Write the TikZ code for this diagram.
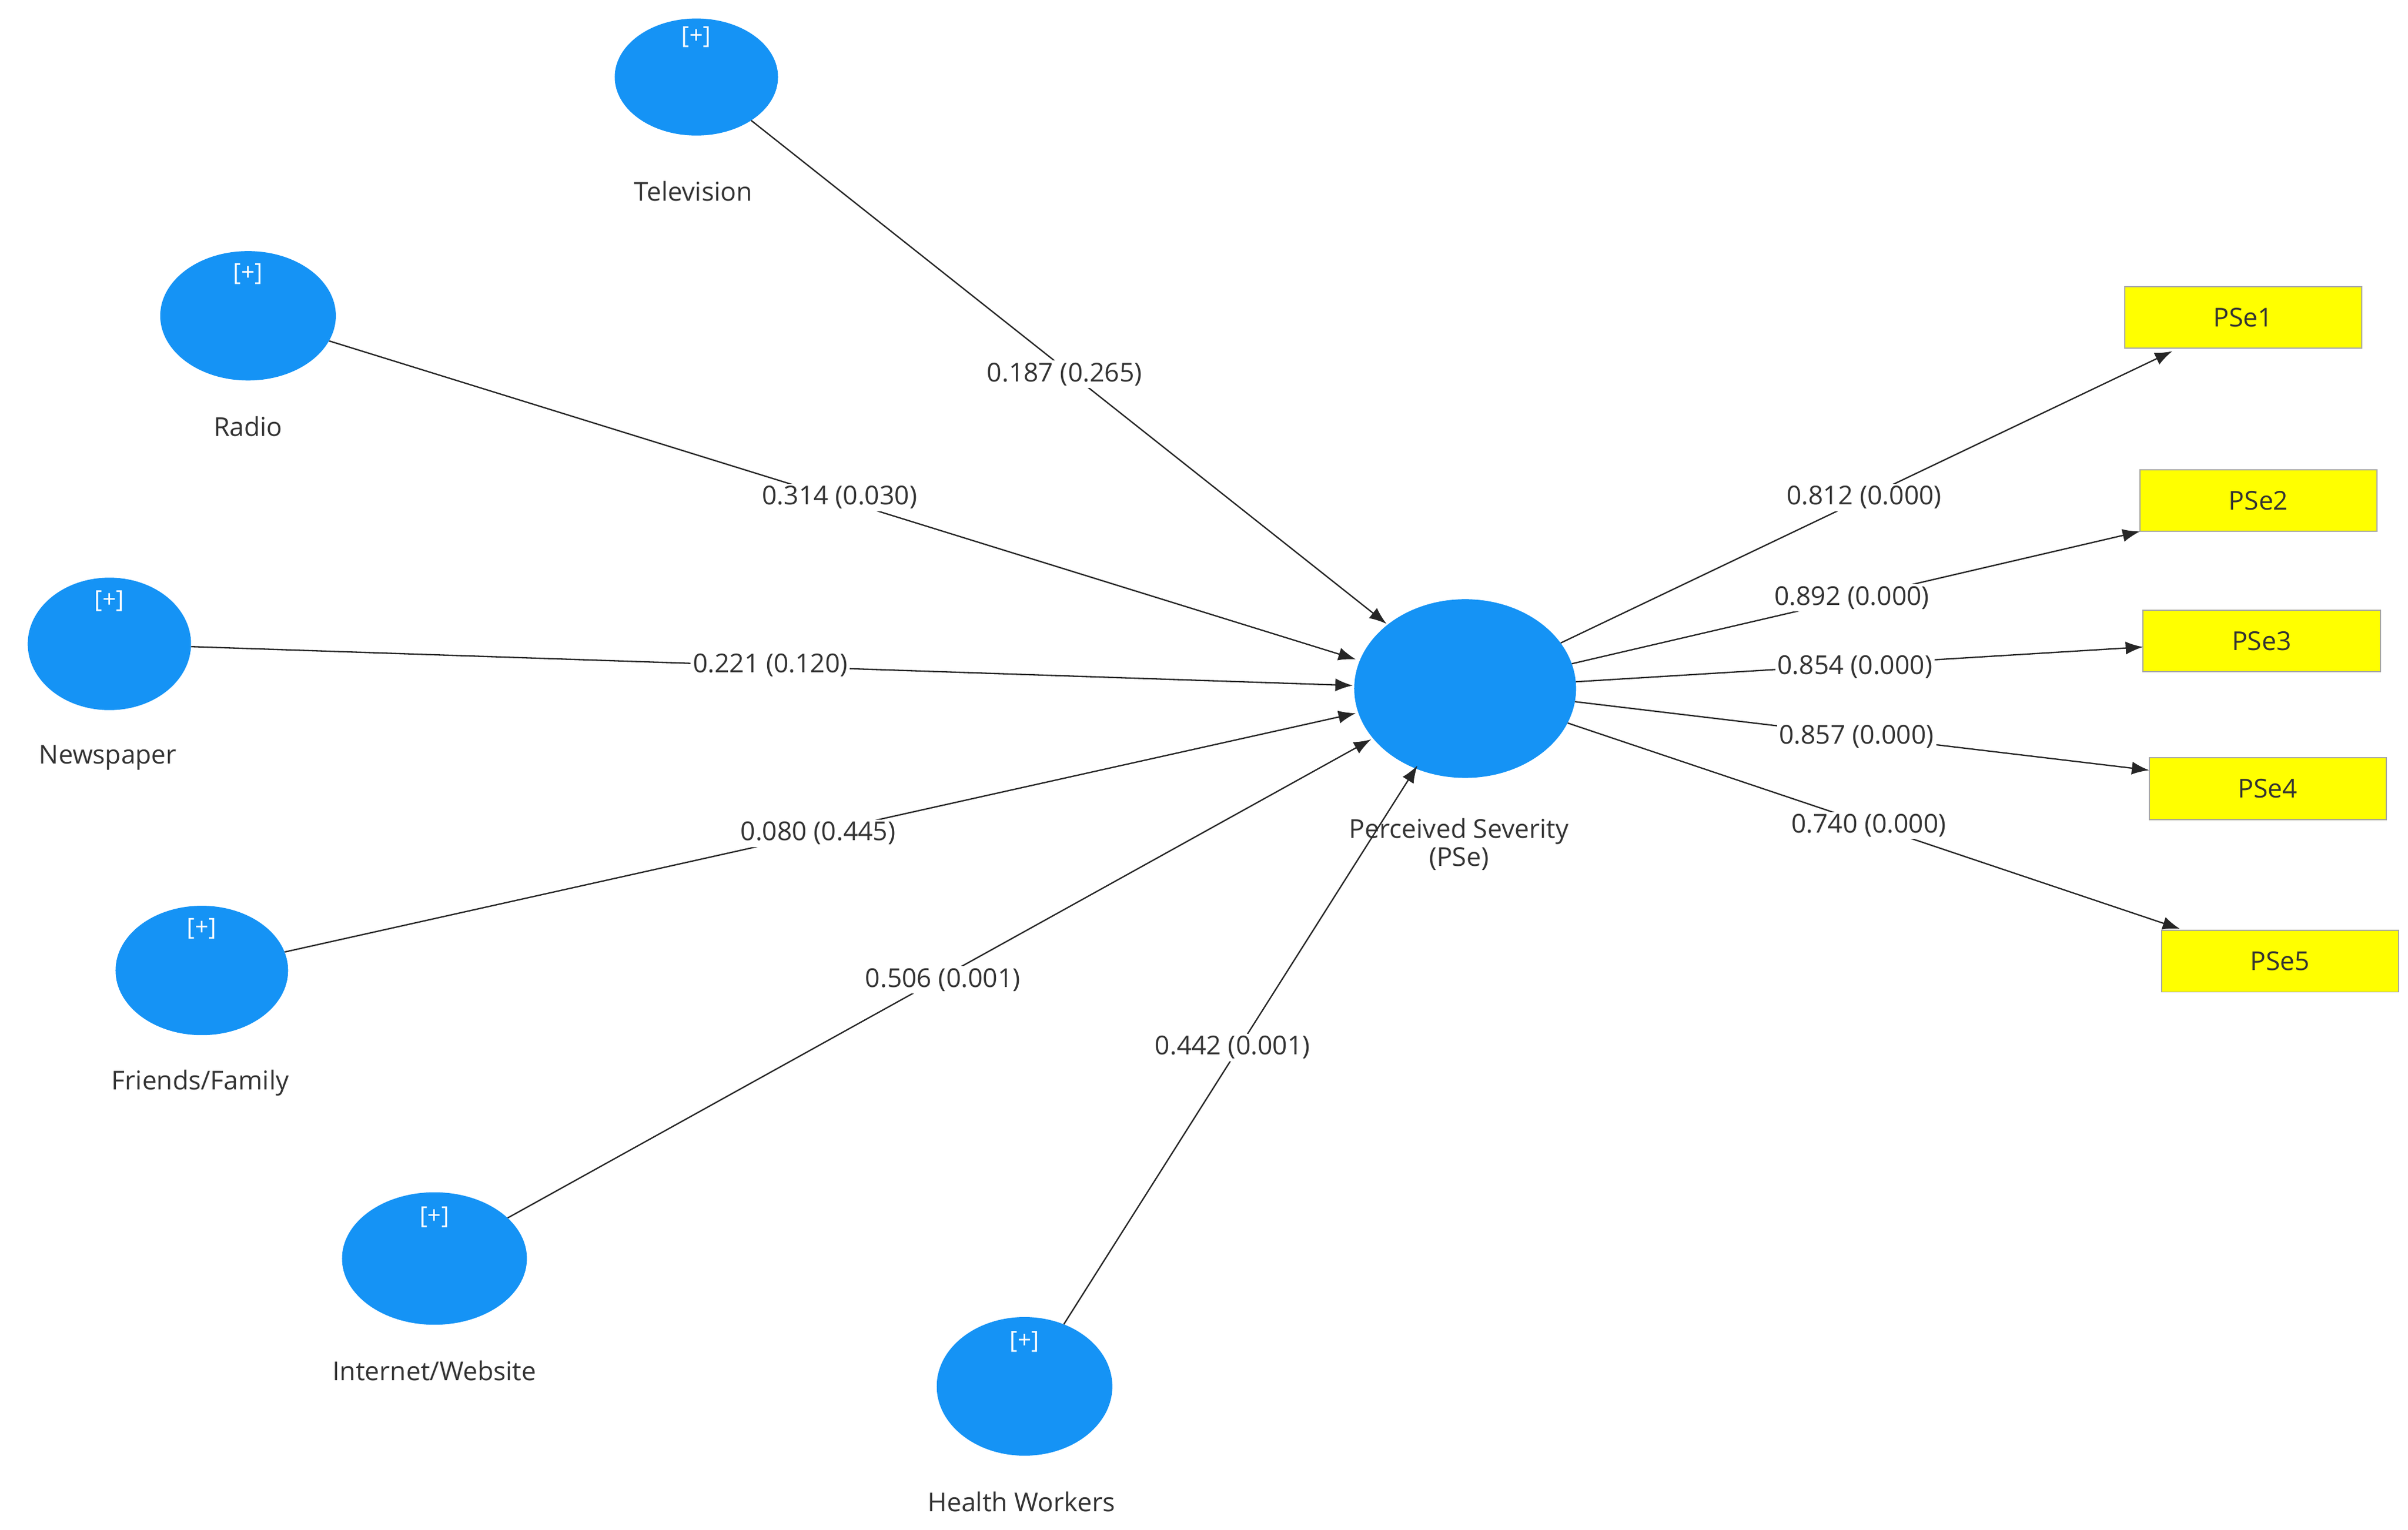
\documentclass[tikz,border=0pt]{standalone}
\usepackage{fontspec}
\setmainfont{Open Sans}
\usetikzlibrary{arrows.meta,shapes.geometric}
\definecolor{lv}{HTML}{1593F5}
\definecolor{ind}{HTML}{FFFF00}
\definecolor{txt}{HTML}{333333}
\tikzset{
 lat/.style={ellipse,fill=lv,draw=none,inner sep=0pt},
 plus/.style={text=white,font=\fontsize{44}{46}\selectfont},
 lbl/.style={text=txt,font=\fontsize{48}{52}\selectfont,align=center},
 ibox/.style={draw=gray!70,line width=2pt,fill=ind,minimum width=15.4cm,minimum height=4cm,text=txt,font=\fontsize{48}{52}\selectfont},
 coef/.style={fill=white,inner sep=4pt,text=txt,font=\fontsize{48}{52}\selectfont},
 arr/.style={draw=black!85,line width=2.5pt,-{Latex[length=32pt,width=24pt]}}
}
\begin{document}
\begin{tikzpicture}[x=0.1cm,y=-0.1cm]
\useasboundingbox[fill=white] (0,0) rectangle (1563,993);
% latent variables
\node[lat,minimum width=10.6cm,minimum height=7.6cm] (tv) at (452,50) {};
\node[lat,minimum width=11.4cm,minimum height=8.4cm] (ra) at (161,205) {};
\node[lat,minimum width=10.6cm,minimum height=8.6cm] (np) at (71,418) {};
\node[lat,minimum width=11.2cm,minimum height=8.4cm] (ff) at (131,630) {};
\node[lat,minimum width=12cm,minimum height=8.6cm] (iw) at (282,817) {};
\node[lat,minimum width=11.4cm,minimum height=9cm] (hw) at (665,900) {};
\node[lat,minimum width=14.4cm,minimum height=11.6cm] (ps) at (951,447) {};
% plus signs
\node[plus] (tvp) at (452,24) {[+]};
\node[plus] (rap) at (161,178) {[+]};
\node[plus] (npp) at (71,390) {[+]};
\node[plus] (ffp) at (131,603) {[+]};
\node[plus] (iwp) at (282,790) {[+]};
\node[plus] (hwp) at (665,871) {[+]};
% labels
\node[lbl] (tvl) at (450,124) {Television};
\node[lbl] (ral) at (161,277) {Radio};
\node[lbl] (npl) at (70,492) {Newspaper};
\node[lbl] (ffl) at (130,703) {Friends/Family};
\node[lbl] (iwl) at (282,890) {Internet/Website};
\node[lbl] (hwl) at (663,975) {Health Workers};
\node[lbl] (psl) at (947,548) {Perceived Severity\\(PSe)};
% indicators
\node[ibox] (i1) at (1456,206) {PSe1};
\node[ibox] (i2) at (1466,325) {PSe2};
\node[ibox] (i3) at (1468,416) {PSe3};
\node[ibox] (i4) at (1472,512) {PSe4};
\node[ibox] (i5) at (1480,624) {PSe5};
% target points
\coordinate (t1) at (900,405);
\coordinate (t2) at (880,428);
\coordinate (t3) at (878,445);
\coordinate (t4) at (880,463);
\coordinate (t5) at (890,480);
\coordinate (t6) at (920,497);
\coordinate (e1) at (1410,228);
\coordinate (e2) at (1389,345);
\coordinate (e3) at (1391,420);
\coordinate (e4) at (1395,500);
\coordinate (e5) at (1415,603);
% paths
\draw[arr] (tv) -- (t1);
\draw[arr] (ra) -- (t2);
\draw[arr] (np) -- (t3);
\draw[arr] (ff) -- (t4);
\draw[arr] (iw) -- (t5);
\draw[arr] (hw) -- (t6);
\draw[arr] (ps) -- (e1);
\draw[arr] (ps) -- (e2);
\draw[arr] (ps) -- (e3);
\draw[arr] (ps) -- (e4);
\draw[arr] (ps) -- (e5);
% coefficients
\node[coef] (c1) at (691,243) {0.187 (0.265)};
\node[coef] (c2) at (545,323) {0.314 (0.030)};
\node[coef] (c3) at (500,432) {0.221 (0.120)};
\node[coef] (c4) at (531,541) {0.080 (0.445)};
\node[coef] (c5) at (612,636) {0.506 (0.001)};
\node[coef] (c6) at (800,680) {0.442 (0.001)};
\node[coef] (d1) at (1210,323) {0.812 (0.000)};
\node[coef] (d2) at (1202,388) {0.892 (0.000)};
\node[coef] (d3) at (1204,433) {0.854 (0.000)};
\node[coef] (d4) at (1205,478) {0.857 (0.000)};
\node[coef] (d5) at (1213,536) {0.740 (0.000)};
\end{tikzpicture}
\end{document}
